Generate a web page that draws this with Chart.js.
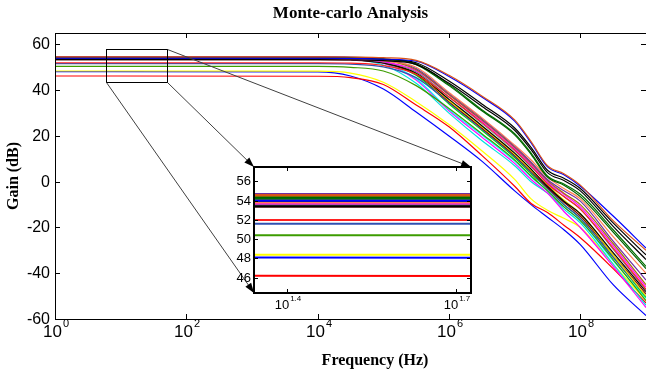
<!DOCTYPE html>
<html>
<head>
<meta charset="utf-8">
<script src="https://cdn.jsdelivr.net/npm/chart.js@4.4.1/dist/chart.umd.min.js"></script>
<style>
  html, body { margin: 0; padding: 0; background: #fff; overflow: hidden; }
  #wrap { position: relative; width: 646px; height: 371px; }
  #main { position: absolute; left: 0; top: 0; }
  #inset { position: absolute; }
</style>
</head>
<body>
<div id="wrap">
  <canvas id="main" width="646" height="371"></canvas>
  <canvas id="inset" width="255" height="160"></canvas>
</div>
<script>
// sample frequencies (Hz) of the Monte-carlo runs
var freqHz = [1, 1e4, 3.16e4, 1e5, 3.16e5, 1e6, 3.16e6, 1e7, 1.78e7, 3.16e7, 5.62e7, 1e8, 3.16e8, 1e9]

// gain (dB) of each run
var gainOrange   = [54.6, 54.6, 54.5, 54.2, 53.0, 46.5, 37.5, 27.0, 17.5, 7.0, 3.5, -1.5, -17, -30]
var gainBlueTop  = [54.0, 54.0, 53.9, 53.6, 52.7, 46.0, 37.0, 26.5, 17.0, 6.5, 3.0, -2.0, -15, -29]
var gainBlack1   = [54.0, 54.0, 53.9, 53.5, 52.0, 44.0, 34.0, 23.5, 15.0, 5.0, 1.5, -3.0, -18, -32]
var gainBlack2   = [53.4, 53.4, 53.3, 52.9, 51.3, 43.0, 33.0, 22.5, 14.0, 4.0, 0.5, -4.0, -19.5, -34]
var gainDkGreen1 = [54.2, 54.2, 54.1, 53.6, 51.5, 42.5, 31.5, 21.0, 12.5, 2.5, -1.0, -5.5, -21, -37]
var gainDkGreen2 = [54.3, 54.3, 54.2, 53.7, 51.2, 42.0, 31.0, 20.5, 12.0, 2.0, -1.5, -6.5, -22, -38]
var gainCoral    = [53.8, 53.8, 53.6, 52.8, 50.0, 39.0, 28.0, 16.0, 9.5, 2.0, -3.0, -7.5, -24, -40]
var gainPurple   = [54.7, 54.7, 54.5, 53.5, 49.5, 38.5, 27.5, 15.5, 8.5, 1.0, -4.0, -8.5, -26, -43]
var gainOlive    = [54.4, 54.4, 54.2, 53.2, 49.0, 38.0, 27.0, 15.0, 8.0, 0.5, -5.0, -10, -27, -45]
var gainMagenta1 = [53.7, 53.7, 53.5, 52.5, 48.5, 38.0, 26.5, 14.5, 7.5, 0.0, -5.5, -11, -28, -46]
var gainRed1     = [52.0, 52.0, 51.8, 50.8, 47.0, 37.0, 26.0, 14.0, 7.0, -1.0, -6.5, -12, -29, -47]
var gainGray     = [53.6, 53.6, 53.4, 52.3, 48.0, 37.0, 25.5, 13.5, 6.5, -0.5, -6.5, -12, -29.5, -47.5]
var gainBlack3   = [53.5, 53.5, 53.3, 52.0, 47.5, 36.0, 24.5, 12.5, 5.5, -2.0, -8.5, -14, -31, -48]
var gainYellow2  = [53.9, 53.9, 53.7, 52.6, 47.5, 35.5, 24.0, 12.0, 5.0, -1.5, -8.0, -14, -32, -50]
var gainDkRed    = [53.4, 53.4, 53.2, 51.8, 47.0, 35.0, 23.5, 11.5, 4.5, -2.5, -9.0, -15, -32, -49]
var gainSteel    = [51.6, 51.6, 51.4, 50.2, 45.5, 34.5, 23.0, 11.0, 4.0, -3.0, -10, -16, -33, -50]
var gainLime     = [53.8, 53.8, 53.6, 52.3, 46.5, 34.0, 22.5, 10.5, 3.5, -3.0, -10, -16, -33, -50.5]
var gainGreen    = [50.4, 50.4, 50.0, 48.4, 42.0, 32.0, 21.0, 9.5, 2.5, -4.0, -11, -17, -34, -52]
var gainCyan1    = [53.9, 53.9, 53.6, 52.0, 45.0, 31.5, 20.5, 9.0, 2.0, -4.0, -11, -17, -34.5, -51]
var gainMagenta2 = [53.7, 53.7, 53.4, 51.8, 44.5, 31.0, 19.5, 8.0, 1.0, -5.0, -13, -20, -37, -55]
var gainCyan2    = [53.9, 53.9, 53.5, 51.0, 43.0, 30.0, 18.0, 7.0, 0.0, -5.0, -12, -18, -36, -54]
var gainYellow1  = [48.4, 48.3, 47.5, 43.5, 35.0, 25.0, 13.5, 1.0, -7.5, -12.5, -16, -20, -36, -52]
var gainRed2     = [46.2, 46.1, 45.5, 42.5, 33.5, 24.0, 11.5, -2.0, -9.5, -13.5, -19, -24.5, -38, -53]
var gainBlueLow  = [48.1, 48.0, 46.2, 40.5, 30.5, 20.0, 9.0, -4.0, -10, -15.5, -21, -27.5, -45, -58.5]

var runs = [gainOrange, gainBlueTop, gainBlack1, gainBlack2, gainDkGreen1, gainDkGreen2,
            gainCoral, gainPurple, gainOlive, gainMagenta1, gainRed1, gainGray, gainBlack3,
            gainYellow2, gainDkRed, gainSteel, gainLime, gainGreen, gainCyan1, gainMagenta2,
            gainCyan2, gainYellow1, gainRed2, gainBlueLow]
var runColors = ['#D95319', '#0000FF', '#000000', '#000000', '#007000', '#006000',
                 '#FF7F50', '#7030A0', '#A07800', '#FF00FF', '#FF2020', '#7F7F7F', '#000000',
                 '#E8E800', '#800000', '#3050B0', '#00DD00', '#3C9C00', '#00FFFF', '#FF00FF',
                 '#00E0E0', '#FFFF00', '#FF0000', '#0000FF']

// axes
var mainTicksX = [1, 1e2, 1e4, 1e6, 1e8]
var mainTickExp = ['0', '2', '4', '6', '8']
var mainTicksY = [-60, -40, -20, 0, 20, 40, 60]
var insetTicksX = [25.12, 50.12]
var insetTickExp = ['1.4', '1.7']
var insetTicksY = [46, 48, 50, 52, 54, 56]
var zoomBoxX = [6, 50]
var zoomBoxY = [43.6, 57.8]

var insetLeft = 225, insetTop = 160
var insetCanvas = document.getElementById('inset')
insetCanvas.style.left = insetLeft + 'px'
insetCanvas.style.top = insetTop + 'px'

var sansFont = "'Liberation Sans', Arial, sans-serif"
var serifFont = "'Liberation Serif', 'Times New Roman', serif"

function makeSets(width) {
    return runs.map(function (run, k) {
        return {
            data: freqHz.map(function (f, i) { return { x: f, y: run[i] } }),
            borderColor: runColors[k],
            borderWidth: width,
            pointRadius: 0,
            fill: false,
            cubicInterpolationMode: 'monotone'
        }
    })
}

function fixTicks(vals) {
    return function (scale) {
        scale.ticks = vals.map(function (v) { return { value: v } })
    }
}

function drawPow(ctx, x, y, base, exp, baseSize, expSize) {
    ctx.font = baseSize + 'px ' + sansFont
    var wb = ctx.measureText(base).width
    ctx.font = expSize + 'px ' + sansFont
    var we = ctx.measureText(exp).width
    var x0 = x - (wb + we) / 2
    ctx.textAlign = 'left'
    ctx.textBaseline = 'middle'
    ctx.font = baseSize + 'px ' + sansFont
    ctx.fillText(base, x0, y)
    ctx.font = expSize + 'px ' + sansFont
    ctx.fillText(exp, x0 + wb + 1, y - baseSize * 0.5)
}

function arrow(ctx, x1, y1, x2, y2) {
    ctx.strokeStyle = '#404040'
    ctx.lineWidth = 1
    ctx.beginPath(); ctx.moveTo(x1, y1); ctx.lineTo(x2, y2); ctx.stroke()
    var ang = Math.atan2(y2 - y1, x2 - x1), len = 10, half = 3.5
    ctx.fillStyle = '#000'
    ctx.beginPath()
    ctx.moveTo(x2, y2)
    ctx.lineTo(x2 - len * Math.cos(ang) + half * Math.sin(ang), y2 - len * Math.sin(ang) - half * Math.cos(ang))
    ctx.lineTo(x2 - len * Math.cos(ang) - half * Math.sin(ang), y2 - len * Math.sin(ang) + half * Math.cos(ang))
    ctx.closePath(); ctx.fill()
}

//-------------
//- INSET -
//-------------
var insetFrame = {
    id: 'insetFrame',
    beforeDatasetsDraw: function (chart) {
        var a = chart.chartArea
        chart.ctx.fillStyle = '#fff'
        chart.ctx.fillRect(a.left, a.top, a.right - a.left, a.bottom - a.top)
    },
    afterDraw: function (chart) {
        var ctx = chart.ctx, a = chart.chartArea
        var xs = chart.scales.x, ys = chart.scales.y
        ctx.save()
        ctx.strokeStyle = '#000'
        ctx.lineWidth = 1
        xs.ticks.forEach(function (t, i) {
            var px = Math.round(xs.getPixelForValue(t.value)) + 0.5
            ctx.beginPath()
            ctx.moveTo(px, a.bottom); ctx.lineTo(px, a.bottom - 4)
            ctx.moveTo(px, a.top); ctx.lineTo(px, a.top + 4)
            ctx.stroke()
            ctx.fillStyle = '#000'
            drawPow(ctx, px, a.bottom + 12, '10', insetTickExp[i], 13, 8)
        })
        ys.ticks.forEach(function (t) {
            var py = Math.round(ys.getPixelForValue(t.value)) + 0.5
            ctx.beginPath()
            ctx.moveTo(a.left, py); ctx.lineTo(a.left + 4, py)
            ctx.moveTo(a.right, py); ctx.lineTo(a.right - 4, py)
            ctx.stroke()
            ctx.fillStyle = '#000'
            ctx.font = '13px ' + sansFont
            ctx.textAlign = 'right'
            ctx.textBaseline = 'middle'
            ctx.fillText(String(t.value), a.left - 3, py)
        })
        ctx.lineWidth = 2
        ctx.strokeRect(a.left, a.top, a.right - a.left, a.bottom - a.top)
        ctx.restore()
    }
}

var insetChart = new Chart(insetCanvas, {
    type: 'line',
    data: { datasets: makeSets(2) },
    options: {
        responsive: false,
        animation: false,
        layout: { padding: { left: 29, top: 7, right: 9, bottom: 27 } },
        plugins: { legend: { display: false }, tooltip: { enabled: false } },
        scales: {
            x: { type: 'logarithmic', min: 22, max: 53.3, afterBuildTicks: fixTicks(insetTicksX),
                 ticks: { display: false }, grid: { display: false, drawTicks: false }, border: { display: false } },
            y: { min: 44.4, max: 57.5, afterBuildTicks: fixTicks(insetTicksY),
                 ticks: { display: false }, grid: { display: false, drawTicks: false }, border: { display: false } }
        }
    },
    plugins: [insetFrame]
})

//-------------
//- MAIN -
//-------------
var mainFrame = {
    id: 'mainFrame',
    afterDraw: function (chart) {
        var ctx = chart.ctx, a = chart.chartArea
        var xs = chart.scales.x, ys = chart.scales.y
        ctx.save()
        ctx.strokeStyle = '#000'
        ctx.lineWidth = 1
        ctx.strokeRect(a.left + 0.5, a.top + 0.5, a.right - a.left, a.bottom - a.top)

        xs.ticks.forEach(function (t, i) {
            var px = Math.round(xs.getPixelForValue(t.value)) + 0.5
            ctx.beginPath()
            ctx.moveTo(px, a.bottom); ctx.lineTo(px, a.bottom - 5)
            ctx.moveTo(px, a.top); ctx.lineTo(px, a.top + 5)
            ctx.stroke()
            ctx.fillStyle = '#000'
            drawPow(ctx, px, a.bottom + 13, '10', mainTickExp[i], 17, 11)
        })
        ys.ticks.forEach(function (t) {
            var py = Math.round(ys.getPixelForValue(t.value)) + 0.5
            ctx.beginPath()
            ctx.moveTo(a.left, py); ctx.lineTo(a.left + 5, py)
            ctx.moveTo(a.right, py); ctx.lineTo(a.right - 5, py)
            ctx.stroke()
            ctx.fillStyle = '#000'
            ctx.font = '16px ' + sansFont
            ctx.textAlign = 'right'
            ctx.textBaseline = 'middle'
            ctx.fillText(String(t.value), a.left - 5, py)
        })

        // titles
        ctx.fillStyle = '#000'
        ctx.textAlign = 'center'
        ctx.textBaseline = 'middle'
        ctx.font = 'bold 17px ' + serifFont
        ctx.fillText('Monte-carlo Analysis', (a.left + a.right) / 2, 14)
        ctx.font = 'bold 16px ' + serifFont
        ctx.fillText('Frequency (Hz)', 375, a.bottom + 42)
        ctx.save()
        ctx.translate(14, (a.top + a.bottom) / 2)
        ctx.rotate(-Math.PI / 2)
        ctx.fillText('Gain (dB)', 0, 0)
        ctx.restore()

        // zoom box and arrows to the inset
        var bx1 = Math.round(xs.getPixelForValue(zoomBoxX[0])) + 0.5
        var bx2 = Math.round(xs.getPixelForValue(zoomBoxX[1])) + 0.5
        var by1 = Math.round(ys.getPixelForValue(zoomBoxY[1])) + 0.5
        var by2 = Math.round(ys.getPixelForValue(zoomBoxY[0])) + 0.5
        ctx.strokeStyle = '#000'
        ctx.lineWidth = 1
        ctx.strokeRect(bx1, by1, bx2 - bx1, by2 - by1)
        var ia = insetChart.chartArea
        var il = insetLeft + ia.left, ir = insetLeft + ia.right
        var it = insetTop + ia.top, ib = insetTop + ia.bottom
        arrow(ctx, bx2, by1, ir, it)
        arrow(ctx, bx2, by2, il, it)
        arrow(ctx, bx1, by2, il, ib)
        ctx.restore()
    }
}

new Chart(document.getElementById('main'), {
    type: 'line',
    data: { datasets: makeSets(1.2) },
    options: {
        responsive: false,
        animation: false,
        layout: { padding: { left: 55, top: 33, right: 0, bottom: 52 } },
        plugins: { legend: { display: false }, tooltip: { enabled: false } },
        scales: {
            x: { type: 'logarithmic', min: 1, max: 1e9, afterBuildTicks: fixTicks(mainTicksX),
                 ticks: { display: false }, grid: { display: false, drawTicks: false }, border: { display: false } },
            y: { min: -60, max: 65, afterBuildTicks: fixTicks(mainTicksY),
                 ticks: { display: false }, grid: { display: false, drawTicks: false }, border: { display: false } }
        }
    },
    plugins: [mainFrame]
})
</script>
</body>
</html>
